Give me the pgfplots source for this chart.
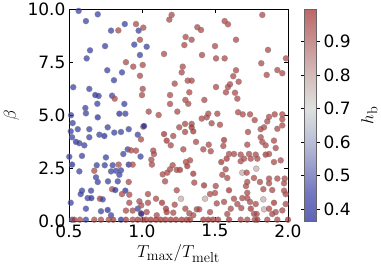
\documentclass[border=0pt]{standalone}
\usepackage[no-math]{fontspec}
\setmainfont{DejaVu Sans}
\usepackage{pgfplots}
\usepackage{pgfplotstable}
\pgfplotsset{compat=1.18}
\pgfplotsset{
 colormap={ptmap}{rgb255(0cm)=(33,40,158) rgb255(1.35cm)=(61,68,168) rgb255(2.14cm)=(95,102,179) rgb255(3.72cm)=(158,165,199) rgb255(5.31cm)=(209,213,209) rgb255(6.89cm)=(195,162,159) rgb255(8.48cm)=(179,102,102) rgb255(10cm)=(165,42,42)},
 colormap={cbmap}{rgb255(0cm)=(95,100,185) rgb255(1.35cm)=(115,120,192) rgb255(2.14cm)=(140,145,200) rgb255(3.72cm)=(185,190,215) rgb255(5.31cm)=(222,225,222) rgb255(6.89cm)=(212,188,186) rgb255(8.48cm)=(200,145,145) rgb255(10cm)=(190,102,102)},
}
\pgfplotstableread{
x y c
0.566 9.91 0.42
0.697 9.75 0.42
0.616 9.43 0.42
0.788 8.98 0.42
0.838 8.99 0.96
0.882 9.29 0.42
0.959 9.29 0.96
0.977 8.98 0.42
1.009 9.12 0.96
0.986 8.55 0.96
0.947 8.32 0.42
0.747 8.25 0.42
0.644 8.05 0.42
0.621 7.67 0.42
0.986 7.83 0.42
0.890 7.49 0.96
0.940 7.28 0.96
1.005 7.36 0.96
0.762 7.11 0.42
0.863 7.01 0.42
0.986 6.85 0.96
0.808 6.64 0.42
0.529 6.31 0.42
0.639 6.23 0.42
0.680 5.94 0.37
0.703 5.90 0.42
0.795 5.91 0.42
0.813 5.77 0.96
1.005 6.23 0.96
1.000 5.94 0.96
0.694 5.53 0.42
0.879 5.52 0.42
0.612 5.33 0.42
0.616 5.08 0.42
0.845 5.06 0.37
0.886 5.06 0.42
0.514 4.99 0.42
0.697 4.89 0.37
0.525 4.62 0.42
0.560 4.33 0.42
0.512 4.23 0.42
0.639 4.33 0.42
0.765 4.42 0.42
0.810 4.17 0.42
0.856 4.20 0.42
0.909 4.33 0.42
0.971 4.07 0.42
1.009 4.45 0.96
0.521 3.95 0.42
0.639 3.95 0.42
0.708 4.07 0.42
0.742 4.01 0.37
0.548 3.73 0.37
0.605 3.57 0.42
0.571 3.67 0.42
0.993 3.85 0.96
0.502 3.03 0.42
0.589 3.07 0.42
0.753 3.00 0.42
0.872 3.16 0.42
0.902 3.38 0.42
0.925 3.33 0.96
0.959 3.32 0.96
0.521 2.66 0.37
0.690 2.63 0.42
0.745 2.63 0.42
0.799 2.63 0.42
0.840 2.66 0.96
0.909 2.66 0.37
0.936 2.66 0.96
0.571 2.34 0.42
0.673 2.37 0.96
0.788 2.34 0.42
0.822 2.37 0.42
0.856 2.39 0.42
0.685 2.06 0.42
0.845 2.18 0.42
0.697 1.84 0.42
0.767 1.87 0.42
0.834 1.87 0.42
0.909 1.84 0.96
0.651 1.43 0.42
0.589 1.43 0.42
0.580 1.27 0.42
0.795 1.50 0.96
0.817 1.46 0.37
0.886 1.43 0.37
0.863 1.27 0.96
0.913 1.24 0.96
0.628 1.08 0.42
0.653 1.08 0.37
0.712 1.05 0.99
0.731 1.02 0.42
0.512 0.86 0.42
0.913 0.86 0.96
0.982 0.93 0.96
0.616 0.58 0.42
0.719 0.46 0.42
0.765 0.52 0.37
0.788 0.27 0.42
0.890 0.49 0.96
0.936 0.49 0.96
0.971 0.58 0.42
0.993 0.36 0.96
0.521 0.06 0.42
0.536 0.06 0.99
0.575 0.06 0.96
0.616 0.06 0.42
0.673 0.06 0.96
0.719 0.06 0.96
0.772 0.06 0.96
0.803 0.06 0.99
0.856 0.06 0.37
0.890 0.06 0.99
0.936 0.06 0.96
0.971 0.06 0.99
1.005 0.06 0.96
1.203 9.72 0.96
1.187 9.50 0.96
1.379 9.14 0.96
1.404 9.01 0.96
1.299 8.68 0.96
1.340 8.55 0.96
1.032 8.22 0.42
1.290 8.30 0.96
1.500 8.25 0.96
1.151 7.88 0.96
1.411 7.83 0.96
1.507 7.67 0.96
1.279 7.28 0.96
1.272 7.01 0.96
1.224 6.48 0.96
1.313 6.62 0.96
1.340 6.62 0.96
1.507 6.32 0.96
1.324 6.07 0.96
1.192 5.94 0.96
1.297 5.71 0.96
1.317 5.53 0.96
1.427 5.71 0.96
1.192 5.52 0.96
1.046 5.16 0.96
1.114 5.00 0.96
1.242 5.16 0.96
1.454 5.06 0.96
1.516 5.06 0.96
1.409 4.83 0.96
1.443 4.89 0.96
1.477 4.61 0.96
1.014 4.48 0.37
1.255 4.42 0.96
1.295 4.58 0.96
1.340 4.58 0.96
1.340 4.42 0.99
1.295 4.20 0.96
1.351 4.23 0.99
1.151 4.10 0.99
1.214 4.01 0.96
1.169 3.79 0.99
1.197 3.57 0.96
1.370 3.73 0.96
1.457 3.60 0.96
1.420 3.38 0.96
1.471 3.29 0.96
0.990 3.04 0.42
1.077 3.32 0.96
1.082 3.16 0.96
1.064 2.89 0.96
1.068 2.66 0.96
1.283 3.38 0.96
1.301 2.78 0.96
1.329 2.86 0.96
1.310 2.59 0.99
1.210 2.63 0.96
1.192 2.44 0.96
1.260 2.41 0.99
1.238 2.41 0.96
1.173 2.28 0.96
1.142 2.20 0.96
1.351 2.23 0.99
1.158 1.87 0.96
1.358 1.81 0.96
1.425 1.68 0.99
1.238 1.45 0.96
1.041 1.27 0.96
1.466 1.27 0.96
1.500 1.32 0.96
1.432 1.05 0.78
1.267 1.05 0.78
1.096 1.05 0.96
1.137 0.86 0.99
1.224 0.77 0.96
1.041 0.86 0.96
0.995 0.74 0.96
1.164 0.58 0.99
1.297 0.58 0.96
1.375 0.55 0.96
1.392 0.55 0.96
1.466 0.42 0.96
1.324 0.36 0.96
1.214 0.39 0.96
1.169 0.42 0.99
1.032 0.42 0.96
0.995 0.34 0.37
1.351 0.27 0.96
1.101 0.27 0.96
1.027 0.06 0.99
1.060 0.06 0.99
1.096 0.06 0.99
1.128 0.06 0.99
1.160 0.06 0.99
1.197 0.06 0.99
1.233 0.06 0.99
1.272 0.06 0.99
1.306 0.06 0.99
1.329 0.06 0.99
1.420 0.06 0.99
1.454 0.06 0.99
1.486 0.06 0.99
1.824 9.72 0.96
1.566 9.43 0.96
1.589 9.28 0.96
1.644 8.55 0.96
1.863 8.07 0.96
1.566 7.67 0.96
1.986 7.67 0.96
1.817 7.44 0.96
1.644 7.11 0.96
1.927 7.12 0.96
1.961 6.97 0.96
1.854 6.89 0.96
1.625 6.83 0.96
1.662 6.57 0.96
1.603 6.45 0.96
1.589 6.32 0.96
1.575 6.07 0.96
1.637 6.05 0.96
1.653 5.77 0.96
1.658 5.13 0.96
1.690 5.03 0.96
1.740 5.03 0.96
1.909 5.03 0.96
1.961 5.03 0.96
1.772 4.76 0.96
1.870 4.91 0.96
1.858 4.70 0.96
1.961 4.80 0.96
1.534 4.54 0.96
1.836 4.42 0.96
1.813 4.33 0.96
1.961 4.51 0.96
1.927 4.35 0.96
1.726 4.20 0.96
1.562 3.82 0.99
1.557 3.54 0.96
1.813 3.95 0.96
1.824 3.73 0.96
1.847 3.57 0.96
1.904 3.79 0.96
1.721 3.60 0.96
1.916 3.44 0.96
1.596 3.16 0.96
1.630 3.16 0.96
1.676 3.13 0.96
1.733 3.16 0.96
1.779 3.13 0.96
1.847 3.13 0.99
1.870 3.16 0.96
1.580 2.94 0.99
1.543 2.78 0.99
1.676 2.82 0.96
1.745 2.94 0.96
1.699 2.94 0.96
1.790 2.94 0.96
1.904 2.78 0.96
1.950 2.86 0.96
1.573 2.44 0.96
1.687 2.28 0.78
1.717 2.28 0.96
1.783 2.47 0.78
1.550 2.18 0.96
1.584 2.03 0.96
1.767 2.03 0.96
1.808 1.84 0.96
1.870 2.00 0.96
1.927 2.00 0.96
1.977 2.00 0.96
1.721 1.84 0.96
1.712 1.65 0.96
1.870 1.78 0.96
1.973 1.78 0.96
1.596 1.45 0.99
1.505 1.65 0.96
1.721 1.33 0.96
1.831 1.50 0.96
1.892 1.46 0.96
1.973 1.43 0.96
1.984 1.27 0.96
1.687 1.08 0.96
1.630 1.05 0.96
1.653 0.80 0.96
1.721 1.08 0.96
1.740 0.90 0.96
1.779 0.80 0.96
1.831 1.02 0.78
1.904 0.86 0.99
1.984 0.80 0.96
1.512 0.83 0.96
1.562 0.90 0.96
1.608 0.58 0.96
1.680 0.61 0.96
1.745 0.58 0.99
1.836 0.55 0.78
1.870 0.58 0.96
1.916 0.42 0.96
1.961 0.50 0.96
1.584 0.33 0.96
1.767 0.34 0.96
1.785 0.33 0.96
1.892 0.33 0.96
1.521 0.06 0.99
1.596 0.06 0.99
1.676 0.06 0.96
1.721 0.06 0.96
1.772 0.06 0.96
1.790 0.06 0.99
1.858 0.06 0.96
1.927 0.06 0.96
2.000 0.06 0.99
}\pts
\begin{document}
\begin{tikzpicture}
\useasboundingbox (0,0) rectangle (381pt,267pt);
\begin{axis}[
  at={(69pt,46pt)}, anchor=south west,
  width=219pt, height=212pt, scale only axis,
  xmin=0.5, xmax=2.0, ymin=0, ymax=10,
  xtick={0.5,1.0,1.5,2.0}, ytick={0,2.5,5,7.5,10},
  tick align=inside, major tick length=4pt,
  tick style={black, line width=0.6pt},
  axis line style={black, line width=0.8pt},
  /pgf/number format/assume math mode=true,
  xticklabel style={font=\fontsize{17}{20}\selectfont, /pgf/number format/.cd, fixed, fixed zerofill, precision=1},
  yticklabel style={font=\fontsize{17}{20}\selectfont, /pgf/number format/.cd, fixed, fixed zerofill, precision=1},
  label style={font=\fontsize{19}{22}\selectfont},
  xlabel={$T_{\max}/T_{\mathrm{melt}}$},
  ylabel={$\beta$},
  xlabel style={at={(axis description cs:0.5,-0.1745)}, anchor=base},
  ylabel style={at={(axis description cs:-0.262,0.5)}, anchor=center},
  colormap name=ptmap,
  point meta min=0.365, point meta max=0.996,
  colorbar,
  colorbar style={
    colormap name=cbmap,
    at={(parent axis.north east)}, anchor=north west, xshift=8pt,
    width=12pt,
    ytick={0.4,0.5,0.6,0.7,0.8,0.9},
    tick align=outside, major tick length=3.5pt,
    tick style={black, line width=0.6pt},
    axis line style={black!60, line width=0.5pt},
    /pgf/number format/assume math mode=true,
    yticklabel style={font=\fontsize{17}{20}\selectfont, /pgf/number format/.cd, fixed, fixed zerofill, precision=1},
    ylabel={$h_{\mathrm{b}}$},
    ylabel style={font=\fontsize{19}{22}\selectfont, at={(axis description cs:5.4,0.5)}, anchor=center},
  },
]
\addplot[scatter, only marks, mark=*, mark size=3pt, point meta=explicit,
  scatter/use mapped color={draw=gray, fill=mapped color},
  mark options={line width=0.5pt, fill opacity=0.72, draw opacity=0.55}]
  table[x=x, y=y, meta=c] {\pts};
\end{axis}
\end{tikzpicture}
\end{document}
